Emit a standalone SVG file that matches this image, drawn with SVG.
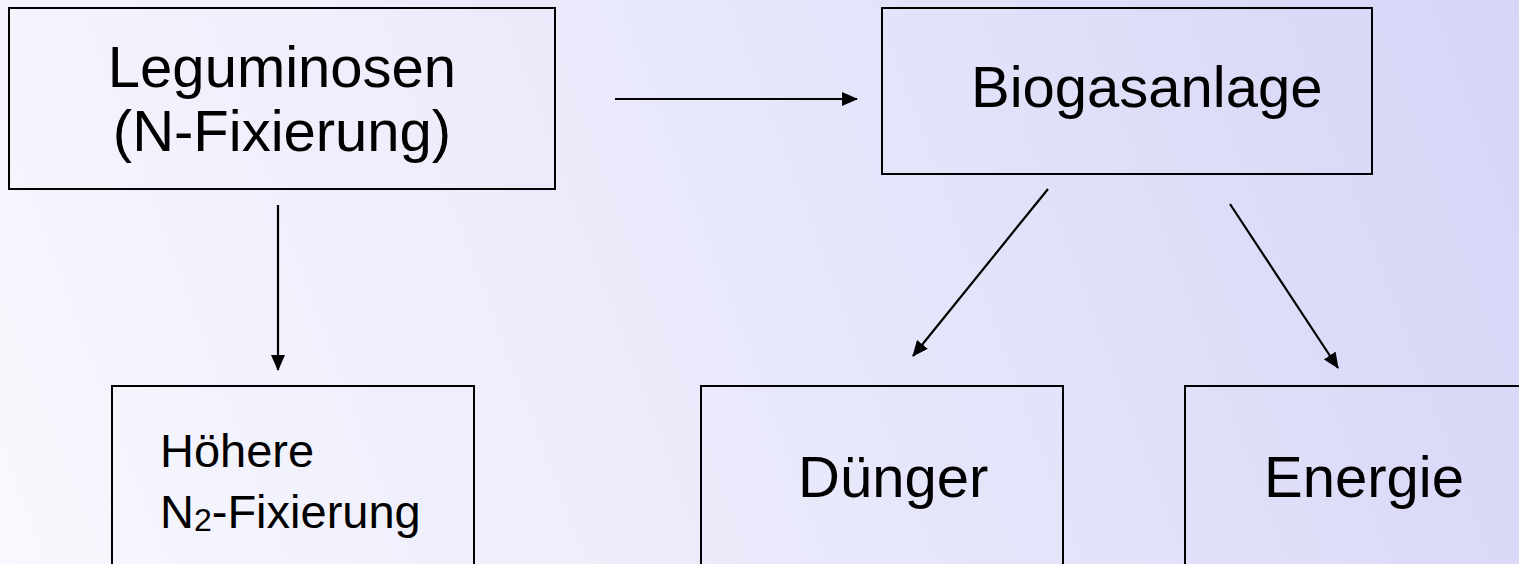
<svg xmlns="http://www.w3.org/2000/svg" width="1519" height="564" viewBox="0 0 1519 564">
  <style>
    .box { fill: none; stroke: #000; stroke-width: 2; }
    .big { font-family: "Liberation Sans", Arial, sans-serif; font-size: 58px; fill: #000; }
    .small { font-family: "Liberation Sans", Arial, sans-serif; font-size: 47px; fill: #000; }
    .conn { stroke: #000; stroke-width: 2.2; fill: none; marker-end: url(#arrow); }
  </style>
  <defs>
    <linearGradient id="bg" x1="0" y1="564" x2="1519" y2="0" gradientUnits="userSpaceOnUse">
      <stop offset="0" stop-color="#F8F8FE"/>
      <stop offset="0.5" stop-color="#E8E8FB"/>
      <stop offset="1" stop-color="#D5D5F7"/>
    </linearGradient>
    <marker id="arrow" viewBox="0 0 16 14" refX="15" refY="7" markerWidth="16" markerHeight="14" markerUnits="userSpaceOnUse" orient="auto">
      <path d="M0,0 L16,7 L0,14 Z" fill="#000"/>
    </marker>
  </defs>
  <rect x="0" y="0" width="1519" height="564" fill="url(#bg)"/>

  <g id="leguminosen">
    <rect class="box" x="9" y="8" width="546" height="181"/>
    <text class="big" x="282" y="87" text-anchor="middle">Leguminosen</text>
    <text class="big" x="282" y="151" text-anchor="middle">(N-Fixierung)</text>
  </g>

  <g id="biogasanlage">
    <rect class="box" x="882" y="8" width="490" height="166"/>
    <text class="big" x="971" y="107">Biogasanlage</text>
  </g>

  <g id="hoehere">
    <rect class="box" x="112" y="386" width="362" height="200"/>
    <text class="small" x="160" y="467">Höhere</text>
    <text class="small" x="160" y="528">N<tspan font-size="32" dy="3">2</tspan><tspan dy="-3">-Fixierung</tspan></text>
  </g>

  <g id="duenger">
    <rect class="box" x="701" y="386" width="362" height="200"/>
    <text class="big" x="798" y="497">Dünger</text>
  </g>

  <g id="energie">
    <rect class="box" x="1185" y="386" width="400" height="200"/>
    <text class="big" x="1264" y="497">Energie</text>
  </g>

  <g id="connectors">
    <line class="conn" x1="615" y1="99" x2="857" y2="99"/>
    <line class="conn" x1="278" y1="205" x2="278" y2="370"/>
    <line class="conn" x1="1048" y1="189" x2="913" y2="356"/>
    <line class="conn" x1="1230" y1="204" x2="1338" y2="368"/>
  </g>
</svg>
